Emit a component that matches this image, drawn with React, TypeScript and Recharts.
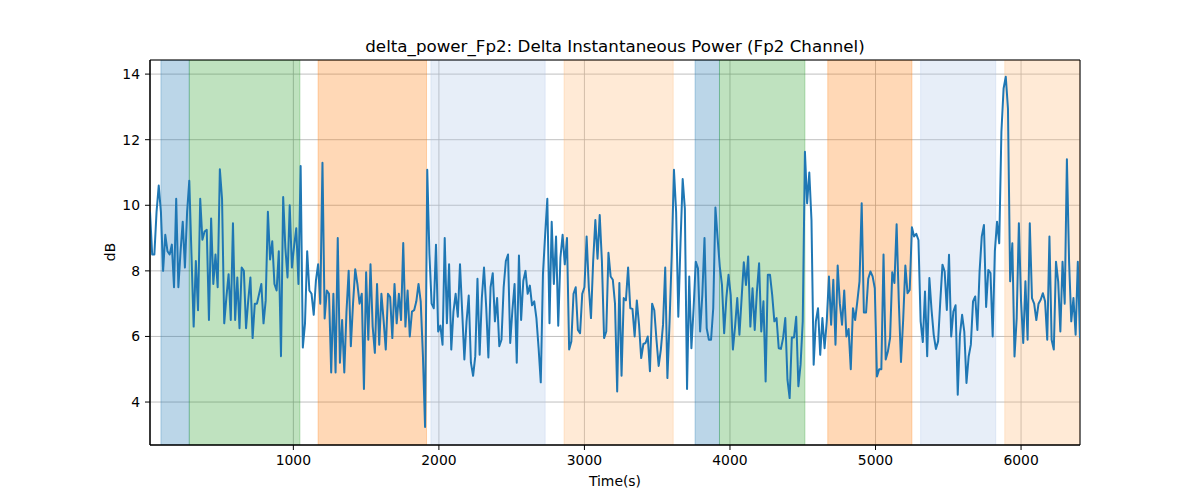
import React from "react";
import {
  LineChart,
  Line,
  XAxis,
  YAxis,
  CartesianGrid,
  ReferenceArea,
} from "recharts";

// one sample every 15 s (epoch length)
const STEP = 15;

const chunkA = [
  9.8, 8.5, 8.5, 9.8, 10.6, 9.8, 8.0, 9.1, 8.6, 8.5, 8.8, 7.5, 10.2, 7.5, 8.6,
  9.5, 8.1, 9.8, 10.75, 8.5, 6.3, 8.3, 6.8, 10.2, 8.95, 9.2, 9.25, 6.5, 9.6,
  7.6, 8.5, 7.5, 11.1, 10.2, 6.4, 7.2, 7.9, 6.5, 9.45, 6.5, 7.8, 6.25, 8.1,
  8.0, 6.25, 7.1, 7.8, 5.95, 7.0, 7.0, 7.3, 7.6, 6.4, 7.1, 9.8, 8.35,
];
const chunkB = [
  8.9, 7.6, 7.4, 8.6, 5.4, 10.25, 8.7, 7.8, 10.0, 8.1, 8.75, 9.3, 7.6, 11.2,
  5.66, 6.4, 8.6, 7.4, 7.3, 6.66, 7.7, 8.2, 7.0, 11.3, 6.55, 7.4, 7.3, 4.9,
  7.3, 4.9, 9.0, 5.2, 6.5, 4.9, 6.75, 8.0, 5.7, 7.0, 8.05, 7.6, 7.0, 7.3, 4.4,
  7.96, 5.9, 8.2, 6.3, 5.5, 7.6, 5.75, 7.3, 6.5, 5.6, 7.3, 7.2,
];
const chunkC = [
  5.95, 7.6, 6.4, 7.3, 6.5, 8.85, 6.3, 7.4, 6.0, 6.76, 6.8, 7.07, 7.6, 7.07,
  5.44, 3.24, 11.08, 8.5, 7.0, 6.86, 8.8, 6.15, 6.33, 5.75, 9.0, 6.4, 8.2, 5.6,
  6.76, 7.3, 6.6, 8.2, 6.76, 5.3, 6.46, 7.25, 5.2, 4.8, 5.4, 7.76, 5.44, 7.17,
  8.1, 6.9, 5.36, 7.5, 7.93, 6.46, 7.17, 5.7, 5.9, 7.5, 8.3, 8.5, 5.8,
];
const chunkD = [
  6.8, 7.6, 5.2, 8.47, 6.5, 7.7, 8.0, 7.3, 7.55, 6.95, 7.07, 6.56, 5.65, 4.6,
  7.9, 9.1, 10.2, 6.4, 9.5, 7.6, 9.05, 6.33, 8.4, 9.1, 8.2, 9.0, 5.6, 5.85,
  7.3, 7.5, 6.2, 6.1, 7.3, 7.5, 9.05, 7.5, 6.56, 8.3, 9.55, 8.37, 9.7, 8.3,
  5.95, 6.15, 8.55, 7.83, 7.73, 7.0, 4.32, 7.63, 4.8, 7.17, 7.1, 8.1, 6.86,
];
const chunkE = [
  6.84, 6.0, 7.1, 6.36, 5.34, 5.77, 5.8, 6.0, 4.94, 7.0, 6.8, 5.9, 5.1, 5.6,
  6.36, 8.1, 4.73, 6.46, 8.5, 11.08, 9.8, 6.6, 8.84, 10.8, 9.9, 4.4, 7.83,
  5.64, 6.86, 8.28, 8.08, 6.15, 7.27, 9.0, 6.25, 5.9, 5.9, 6.86, 9.93, 9.0,
  8.13, 7.57, 6.1, 7.17, 7.88, 7.27, 5.6, 6.3, 7.17, 6.05, 7.17, 8.26, 7.57,
  8.44, 6.3,
];
const chunkF = [
  7.47, 6.2, 7.37, 8.23, 6.15, 7.07, 4.63, 7.88, 7.88, 7.27, 6.46, 6.56, 5.64,
  5.62, 5.95, 6.56, 4.68, 4.12, 5.97, 5.97, 6.6, 4.48, 5.14, 6.46, 11.63,
  10.06, 11.0, 9.55, 5.14, 6.46, 6.86, 5.44, 6.56, 5.64, 6.46, 7.83, 6.36,
  7.73, 5.75, 8.16, 7.0, 6.36, 7.4, 6.0, 6.23, 5.0, 6.86, 6.5, 7.07, 7.68,
  10.06, 6.73, 6.73, 7.76, 7.98,
];
const chunkG = [
  7.83, 7.47, 4.78, 5.0, 5.0, 8.5, 5.3, 5.54, 5.95, 7.96, 7.63, 9.42, 7.07,
  5.22, 6.5, 8.16, 7.32, 7.42, 9.33, 9.05, 9.13, 8.94, 6.46, 5.83, 7.37, 5.4,
  7.78, 6.81, 6.05, 5.62, 5.85, 7.07, 8.19, 7.98, 6.81, 8.49, 6.0, 6.76, 6.95,
  4.22, 6.05, 6.66, 6.15, 4.58, 5.39, 5.75, 7.07, 7.22, 6.2, 7.98, 9.05, 9.4,
  6.9, 8.03, 7.93,
];
const chunkH = [
  6.0, 8.6, 9.5, 8.84, 12.24, 13.56, 13.92, 12.95, 7.68, 8.84, 5.39, 6.56,
  9.45, 7.07, 5.8, 7.68, 5.9, 9.45, 7.17, 7.0, 6.5, 7.0, 7.12, 7.32, 7.07, 5.9,
  9.05, 5.9, 5.6, 8.28, 7.68, 6.15, 8.28, 7.0, 11.4, 8.28, 6.46, 7.17, 6.05,
  8.28, 5.95,
];

const powerDb = [
  ...chunkA, ...chunkB, ...chunkC, ...chunkD,
  ...chunkE, ...chunkF, ...chunkG, ...chunkH,
];

const data = powerDb.map((v, i) => ({ time: (i + 1) * STEP, value: v }));

const xTicks = [1000, 2000, 3000, 4000, 5000, 6000];
const yTicks = [4, 6, 8, 10, 12, 14];

// shaded stage segments
const spanStart = [90, 285, 1170, 1945, 2860, 3760, 3928, 4672, 5310, 5888];
const spanEnd = [285, 1045, 1915, 2730, 3610, 3928, 4515, 5250, 5826, 6405];
const spanColor = [
  "#1f77b4", "#2ca02c", "#ff7f0e", "#aec7e8", "#ffbb78",
  "#1f77b4", "#2ca02c", "#ff7f0e", "#aec7e8", "#ffbb78",
];

const X_MIN = 15;
const X_MAX = 6405;
const Y_MIN = 2.69;
const Y_MAX = 14.43;

const font = "'DejaVu Sans', sans-serif";

export default function App() {
  return (
    <div
      style={{
        position: "absolute",
        left: 0,
        top: 0,
        width: 1200,
        height: 500,
        background: "#fff",
        fontFamily: font,
      }}
    >
      <LineChart
        width={1200}
        height={500}
        data={data}
        margin={{ top: 60, right: 120, bottom: 0, left: 0 }}
      >
        {spanStart.map((s, i) => (
          <ReferenceArea
            key={i}
            x1={s}
            x2={spanEnd[i]}
            fill={spanColor[i]}
            fillOpacity={0.3}
            stroke={spanColor[i]}
            strokeOpacity={0.3}
            ifOverflow="hidden"
          />
        ))}
        <CartesianGrid stroke="#b0b0b0" strokeWidth={0.8} />
        <XAxis
          dataKey="time"
          type="number"
          domain={[X_MIN, X_MAX]}
          ticks={xTicks}
          allowDataOverflow
          height={55}
          tickSize={5}
          tickMargin={5}
          stroke="#000"
          tick={{ fill: "#000", fontSize: 13.9, fontFamily: font }}
        />
        <YAxis
          type="number"
          domain={[Y_MIN, Y_MAX]}
          ticks={yTicks}
          allowDataOverflow
          width={150}
          tickSize={5}
          tickMargin={5}
          stroke="#000"
          tick={{ fill: "#000", fontSize: 13.9, fontFamily: font }}
        />
        <Line
          type="linear"
          dataKey="value"
          stroke="#1f77b4"
          strokeWidth={2}
          strokeLinejoin="round"
          dot={false}
          activeDot={false}
          isAnimationActive={false}
        />
        <ReferenceArea
          x1={X_MIN}
          x2={X_MAX}
          y1={Y_MIN}
          y2={Y_MAX}
          fill="none"
          stroke="#000"
          strokeWidth={1}
          ifOverflow="visible"
        />
      </LineChart>
      <svg
        width={1200}
        height={500}
        style={{ position: "absolute", left: 0, top: 0, pointerEvents: "none" }}
      >
        <text x={615} y={52} textAnchor="middle" fontSize={16.7} fontFamily={font} fill="#000">
          delta_power_Fp2: Delta Instantaneous Power (Fp2 Channel)
        </text>
        <text x={615} y={486} textAnchor="middle" fontSize={13.9} fontFamily={font} fill="#000">
          Time(s)
        </text>
        <text
          x={115}
          y={252}
          textAnchor="middle"
          fontSize={13.9}
          fontFamily={font}
          fill="#000"
          transform="rotate(-90 115 252)"
        >
          dB
        </text>
      </svg>
    </div>
  );
}
